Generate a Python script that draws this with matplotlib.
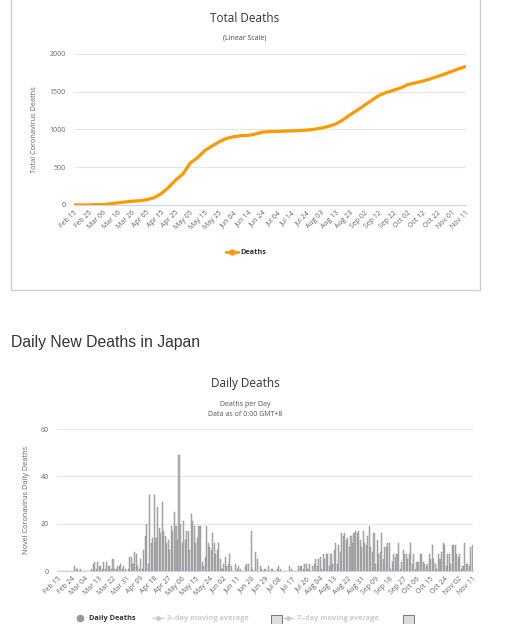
import matplotlib
matplotlib.use("Agg")
import matplotlib.pyplot as plt
from matplotlib.patches import Rectangle
from matplotlib.lines import Line2D
import numpy as np

# ---------------- data ----------------
# Total deaths (read every 5 days, day 0 = Feb 15)
total_day = list(range(0, 271, 5))
total_deaths = [1, 1, 1, 6, 6, 16, 28, 40, 50, 56,
                70, 95, 150, 230, 330, 410, 555, 625, 720, 780,
                838, 882, 905, 918, 922, 940, 965, 972, 975, 978,
                982, 985, 992, 1002, 1018, 1040, 1070, 1125, 1193, 1255,
                1320, 1385, 1450, 1490, 1520, 1550, 1595, 1617, 1640, 1668,
                1700, 1733, 1768, 1805, 1836]
total_ticks = ["Feb 15", "Feb 25", "Mar 06", "Mar 16", "Mar 26", "Apr 05", "Apr 15",
               "Apr 25", "May 05", "May 15", "May 25", "Jun 04", "Jun 14", "Jun 24",
               "Jul 04", "Jul 14", "Jul 24", "Aug 03", "Aug 13", "Aug 23", "Sep 02",
               "Sep 12", "Sep 22", "Oct 02", "Oct 12", "Oct 22", "Nov 01", "Nov 11"]

# Daily deaths, Feb 15 .. Nov 11
daily_deaths = [
    0, 0, 0, 0, 0, 0, 0, 0, 0, 0,
    0, 2, 1, 1, 0, 1, 0, 0, 0, 0,
    0, 0, 1, 3, 4, 1, 4, 2, 2, 1,
    4, 1, 4, 2, 2, 1, 5, 1, 1, 2,
    2, 3, 1, 2, 1, 0, 1, 6, 6, 3,
    8, 7, 2, 1, 5, 1, 9, 15, 20, 3,
    32, 12, 14, 32, 14, 27, 18, 16, 29, 17,
    15, 12, 13, 9, 19, 17, 25, 19, 13, 49,
    20, 12, 21, 13, 17, 17, 9, 24, 21, 19,
    12, 14, 19, 19, 4, 2, 6, 19, 12, 10,
    9, 16, 12, 7, 9, 12, 5, 1, 3, 6,
    2, 3, 7, 2, 0, 0, 3, 1, 2, 1,
    0, 0, 2, 3, 3, 0, 17, 1, 0, 8,
    5, 0, 2, 1, 0, 1, 0, 2, 0, 1,
    1, 0, 0, 1, 2, 1, 0, 0, 0, 0,
    0, 2, 1, 0, 0, 0, 0, 2, 2, 2,
    1, 3, 3, 1, 3, 0, 2, 3, 5, 2,
    5, 6, 1, 7, 5, 7, 7, 2, 7, 3,
    9, 12, 3, 11, 8, 16, 15, 16, 13, 14,
    10, 15, 12, 16, 17, 16, 17, 13, 10, 17,
    12, 11, 15, 19, 10, 8, 16, 3, 13, 7,
    8, 16, 5, 10, 10, 12, 12, 1, 4, 7,
    6, 7, 12, 1, 4, 9, 7, 7, 5, 7,
    12, 3, 7, 1, 4, 4, 7, 7, 4, 3,
    2, 3, 7, 5, 11, 5, 3, 1, 7, 5,
    8, 12, 11, 2, 7, 7, 3, 11, 11, 11,
    7, 6, 7, 1, 2, 12, 3, 3, 2, 10,
    11]
daily_ticks = ["Feb 15", "Feb 24", "Mar 04", "Mar 13", "Mar 22", "Mar 31", "Apr 09",
               "Apr 18", "Apr 27", "May 06", "May 15", "May 24", "Jun 02", "Jun 11",
               "Jun 20", "Jun 29", "Jul 08", "Jul 17", "Jul 26", "Aug 04", "Aug 13",
               "Aug 22", "Aug 31", "Sep 09", "Sep 18", "Sep 27", "Oct 06", "Oct 15",
               "Oct 24", "Nov 02", "Nov 11"]

# ---------------- layout helpers ----------------
W, H = 520, 624
fig = plt.figure(figsize=(W / 100, H / 100), dpi=100)
fig.patch.set_facecolor("white")
CF = ["Open Sans", "DejaVu Sans"]


def fx(x):
    return x / W


def fy(y):
    return 1 - y / H


def add_ax(x0, y0, x1, y1):
    return fig.add_axes([fx(x0), fy(y1), (x1 - x0) / W, (y1 - y0) / H])


def style_ax(ax, yticks):
    ax.set_facecolor("none")
    for s in ("top", "right", "left"):
        ax.spines[s].set_visible(False)
    ax.spines["bottom"].set_color("#ccd6eb")
    ax.spines["bottom"].set_linewidth(0.8)
    ax.set_yticks(yticks)
    ax.grid(axis="y", color="#e6e6e6", linewidth=0.8)
    ax.set_axisbelow(True)
    ax.tick_params(axis="y", length=0, pad=6, labelsize=5, labelcolor="#666666")
    ax.tick_params(axis="x", length=0, pad=3, labelsize=5, labelcolor="#666666")
    for lab in ax.get_yticklabels():
        lab.set_family(CF)


# ---------------- top card border ----------------
fig.add_artist(Rectangle((fx(11), fy(290)), (480 - 11) / W, (290 + 10) / H,
                         transform=fig.transFigure, fill=False,
                         edgecolor="#cccccc", linewidth=0.9))

# ---------------- top chart ----------------
ax1 = add_ax(74, 54, 466, 205)
ax1.plot(total_day, total_deaths, color="#FF9900", linewidth=2.3,
         solid_capstyle="round", solid_joinstyle="round")
ax1.set_xlim(0, 270)
ax1.set_ylim(0, 2000)
style_ax(ax1, [0, 500, 1000, 1500, 2000])
ax1.set_xticks(range(0, 271, 10))
ax1.set_xticklabels(total_ticks, rotation=45, ha="right", va="top",
                    rotation_mode="anchor", family=CF)

fig.text(fx(245), fy(18), "Total Deaths", ha="center", va="center",
         fontsize=8.5, color="#333333", family=CF)
fig.text(fx(245), fy(38), "(Linear Scale)", ha="center", va="center",
         fontsize=5, color="#444444", family=CF)
fig.text(fx(34), fy(130), "Total Coronavirus Deaths", ha="center", va="center",
         rotation=90, fontsize=5.3, color="#666666", family=CF)
# legend
fig.add_artist(Line2D([fx(226), fx(238)], [fy(252), fy(252)], transform=fig.transFigure,
                      color="#FF9900", linewidth=2.0))
fig.add_artist(Line2D([fx(232)], [fy(252)], transform=fig.transFigure, marker="o",
                      markersize=3.5, color="#FF9900", linestyle="none"))
fig.text(fx(240), fy(252), "Deaths", ha="left", va="center", fontsize=5.3,
         fontweight="bold", color="#333333", family=CF)

# ---------------- heading ----------------
fig.text(fx(11), fy(343), "Daily New Deaths in Japan", ha="left", va="center",
         fontsize=11.3, color="#333333", family=["Liberation Sans", "DejaVu Sans"])

# ---------------- bottom chart ----------------
ax2 = add_ax(57, 429, 473, 571)
days = np.arange(len(daily_deaths))
ax2.bar(days, daily_deaths, width=0.7, color="#b3b3b3", edgecolor="#8c8c8c",
        linewidth=0.3)
ax2.set_xlim(-0.5, len(daily_deaths) - 0.5)
ax2.set_ylim(0, 60)
style_ax(ax2, [0, 20, 40, 60])
ax2.set_xticks(range(0, 271, 9))
ax2.set_xticklabels(daily_ticks, rotation=45, ha="right", va="top",
                    rotation_mode="anchor", family=CF)

fig.text(fx(245), fy(383), "Daily Deaths", ha="center", va="center",
         fontsize=8.5, color="#333333", family=CF)
fig.text(fx(245), fy(404), "Deaths per Day", ha="center", va="center",
         fontsize=5, color="#555555", family=CF)
fig.text(fx(245), fy(414), "Data as of 0:00 GMT+8", ha="center", va="center",
         fontsize=5, color="#555555", family=CF)
fig.text(fx(27), fy(500), "Novel Coronavirus Daily Deaths", ha="center", va="center",
         rotation=90, fontsize=5.3, color="#666666", family=CF)

# legend bottom
ly = 618
fig.add_artist(Line2D([fx(80)], [fy(ly)], transform=fig.transFigure, marker="o",
                      markersize=4.5, color="#999999", linestyle="none"))
fig.text(fx(89), fy(ly), "Daily Deaths", ha="left", va="center", fontsize=5.3,
         fontweight="bold", color="#333333", family=CF)
for (lx0, lx1, tx, label) in [(153, 163, 167, "3\u2013day moving average"),
                              (283, 293, 297, "7\u2013day moving average")]:
    fig.add_artist(Line2D([fx(lx0), fx(lx1)], [fy(ly), fy(ly)], transform=fig.transFigure,
                          color="#cccccc", linewidth=1.0))
    fig.add_artist(Line2D([fx((lx0 + lx1) / 2)], [fy(ly)], transform=fig.transFigure,
                          marker="o", markersize=2.5, color="#cccccc", linestyle="none"))
    fig.text(fx(tx), fy(ly), label, ha="left", va="center", fontsize=5.3,
             fontweight="bold", color="#cccccc", family=CF)
for bx in (271, 403):
    fig.add_artist(Rectangle((fx(bx), fy(626)), 11 / W, 11 / H, transform=fig.transFigure,
                             facecolor="#dddddd", edgecolor="#777777", linewidth=0.7))

fig.savefig("out.png", dpi=100, facecolor="white")
